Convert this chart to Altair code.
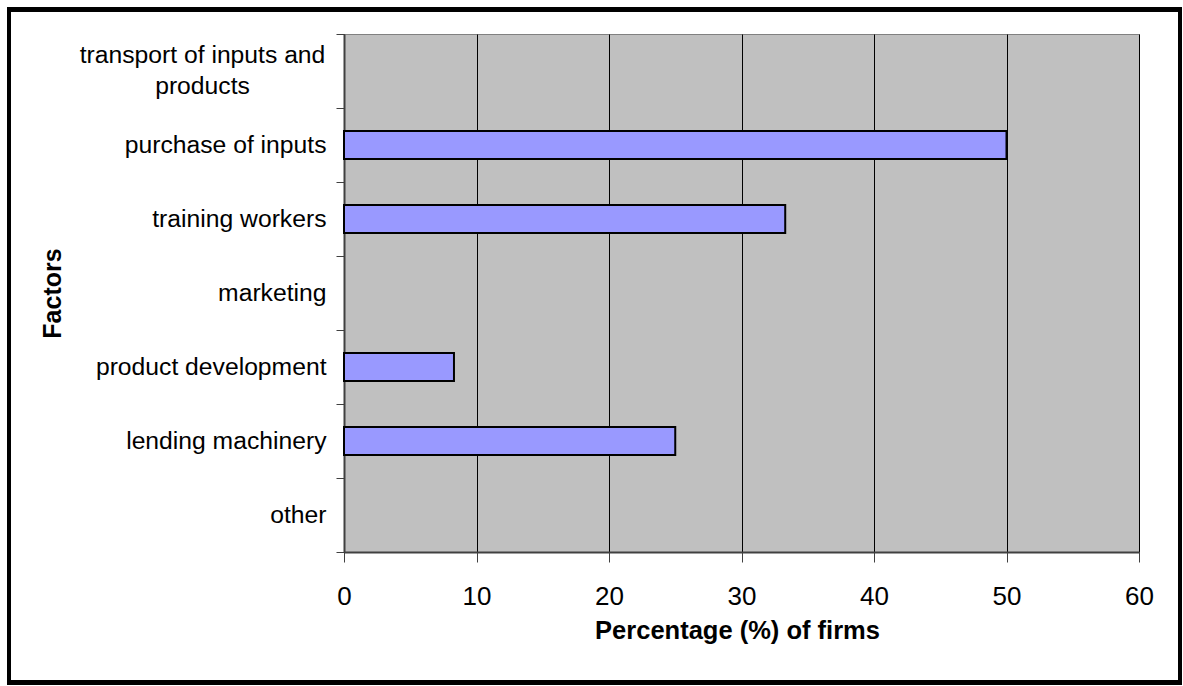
import altair as alt
import pandas as pd

categories = [
    "transport of inputs and products",
    "purchase of inputs",
    "training workers",
    "marketing",
    "product development",
    "lending machinery",
    "other",
]
values = [0, 50, 33.3, 0, 8.3, 25, 0]
x_ticks = [0, 10, 20, 30, 40, 50, 60]
wrapped_label = "transport of inputs and\nproducts"

df = pd.DataFrame({"factor": categories, "pct": values})

W, H = 795, 518
PAD_L, PAD_T = 344, 34
LABEL_SIZE = 24.7
LINE_H = 31

label_expr = "datum.value == 'transport of inputs and products' ? '' : datum.value"

base = alt.Chart(df)

y_enc = alt.Y(
    "factor:N",
    sort=categories,
    scale=alt.Scale(domain=categories, paddingInner=0, paddingOuter=0),
    axis=alt.Axis(
        title="Factors",
        titleFontSize=25,
        titleFontWeight="bold",
        titleColor="black",
        titleAngle=270,
        titleX=-292,
        titleY=259,
        titleAlign="center",
        titleBaseline="middle",
        labelFontSize=LABEL_SIZE,
        labelColor="black",
        labelPadding=10,
        labelExpr=label_expr,
        labelLimit=400,
        tickBand="extent",
        tickSize=8,
        tickColor="#404040",
        domainColor="#404040",
        domainWidth=2,
    ),
)

bars = base.transform_filter("datum.pct > 0").mark_bar(
    size=28, color="#9999FF", stroke="black", strokeWidth=2
).encode(
    x=alt.X(
        "pct:Q",
        scale=alt.Scale(domain=[0, 60], nice=False),
        axis=alt.Axis(
            values=x_ticks,
            title="Percentage (%) of firms",
            titleFontSize=25.5,
            titleFontWeight="bold",
            titleColor="black",
            titleX=393,
            titleY=86,
            titleBaseline="alphabetic",
            titleAnchor="start",
            titleAlign="center",
            labelFontSize=26,
            labelColor="black",
            labelBaseline="alphabetic",
            labelPadding=42,
            tickSize=10,
            tickColor="#404040",
            domainColor="#404040",
            domainWidth=2,
            grid=True,
            gridColor="black",
            gridWidth=1,
            labelFlush=False,
        ),
    ),
    y=y_enc,
)

wrapped = base.transform_filter(
    alt.datum.factor == categories[0]
).transform_calculate(
    txt=alt.expr.replace(wrapped_label, "", "")
).mark_text(
    align="center",
    baseline="middle",
    lineBreak="\n",
    lineHeight=LINE_H,
    dy=-LINE_H / 2,
    fontSize=LABEL_SIZE,
    font="Liberation Sans",
    color="black",
).encode(
    x=alt.value(202.5 - PAD_L),
    y=alt.Y("factor:N", sort=categories),
    text=alt.Text("txt:N"),
)

frame = base.mark_rect(
    filled=False, stroke="black", strokeWidth=4
).encode(
    x=alt.value(9 - PAD_L),
    x2=alt.value(1180 - PAD_L),
    y=alt.value(9.5 - PAD_T),
    y2=alt.value(682.5 - PAD_T),
)

chart = alt.layer(bars, wrapped, frame).properties(
    width=W,
    height=H,
    padding={"left": PAD_L, "top": PAD_T, "right": 1183 - PAD_L - W, "bottom": 686 - PAD_T - H},
    autosize=alt.AutoSizeParams(type="none"),
    background="white",
).configure_view(
    fill="#C0C0C0", stroke="#808080", strokeWidth=1
).configure_axis(
    labelFont="Liberation Sans", titleFont="Liberation Sans"
)

chart.save("out.html", embed_options={"renderer": "svg", "actions": False})
